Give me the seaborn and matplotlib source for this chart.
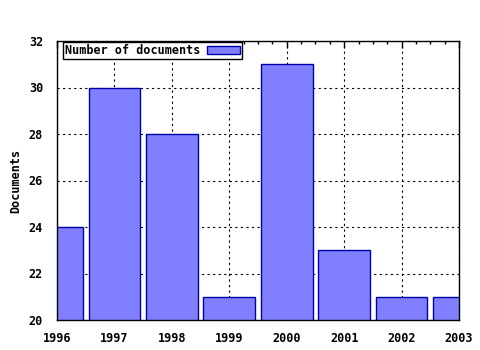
import matplotlib
matplotlib.use("Agg")
import matplotlib.pyplot as plt
import seaborn as sns
import pandas as pd
from matplotlib.ticker import MultipleLocator

years = [1996, 1997, 1998, 1999, 2000, 2001, 2002, 2003]
documents = [24, 30, 28, 21, 31, 23, 21, 21]
series_label = "Number of documents"

sns.set_style("white")
plt.rcParams['font.family'] = ['DejaVu Sans Mono', 'DejaVu Sans']
plt.rcParams['font.weight'] = 'bold'
plt.rcParams['text.color'] = 'black'
plt.rcParams['axes.labelcolor'] = 'black'
plt.rcParams['xtick.color'] = 'black'
plt.rcParams['ytick.color'] = 'black'

df = pd.DataFrame({"year": years, "documents": documents})

fig = plt.figure(figsize=(4.8, 3.5), dpi=100)
ax = fig.add_axes([57/480, 30/350, 402/480, 279/350])

sns.barplot(data=df, x="year", y="documents", native_scale=True, width=0.9,
            color="#8080ff", saturation=1, edgecolor="#0000aa", linewidth=1,
            ax=ax, zorder=2, label=series_label)

ax.set_xlim(1996, 2003)
ax.set_ylim(20, 32)
ax.xaxis.set_major_locator(MultipleLocator(1))
ax.xaxis.set_minor_locator(MultipleLocator(0.25))
ax.yaxis.set_major_locator(MultipleLocator(2))
ax.grid(True, which='major', color='black', linestyle=(0, (2, 3)), linewidth=0.8, zorder=1)
ax.set_axisbelow(True)
for s in ax.spines.values():
    s.set_visible(True)
    s.set_color('black')
    s.set_linewidth(1)
ax.tick_params(axis='x', which='major', direction='out', length=5, width=1,
               labelsize=8.5, top=False, pad=4)
ax.tick_params(axis='x', which='minor', direction='out', length=2, width=1, top=False)
sec = ax.secondary_xaxis('top')
sec.xaxis.set_major_locator(MultipleLocator(1))
sec.xaxis.set_minor_locator(MultipleLocator(0.25))
sec.tick_params(axis='x', which='major', direction='in', length=5, width=1, labeltop=False)
sec.tick_params(axis='x', which='minor', direction='in', length=2, width=1)
sec.spines['top'].set_visible(False)
ax.tick_params(axis='y', which='major', direction='out', length=5, width=1,
               labelsize=8.5, right=False, pad=5)
for lab in ax.get_xticklabels() + ax.get_yticklabels():
    lab.set_fontweight('bold')
ax.set_xlabel("")
ax.set_ylabel("Documents", fontsize=8.5, fontweight='bold', labelpad=5)

leg = ax.legend(loc='upper left', bbox_to_anchor=(0.015, 0.995), markerfirst=False,
                frameon=True, fancybox=False, edgecolor='black', framealpha=1,
                fontsize=8.5, borderpad=0.15, handlelength=2.8, handleheight=0.6,
                handletextpad=0.6, borderaxespad=0)
leg.get_frame().set_linewidth(1)
for t in leg.get_texts():
    t.set_fontweight('bold')
    t.set_color('black')

fig.savefig("out.png", dpi=100)
